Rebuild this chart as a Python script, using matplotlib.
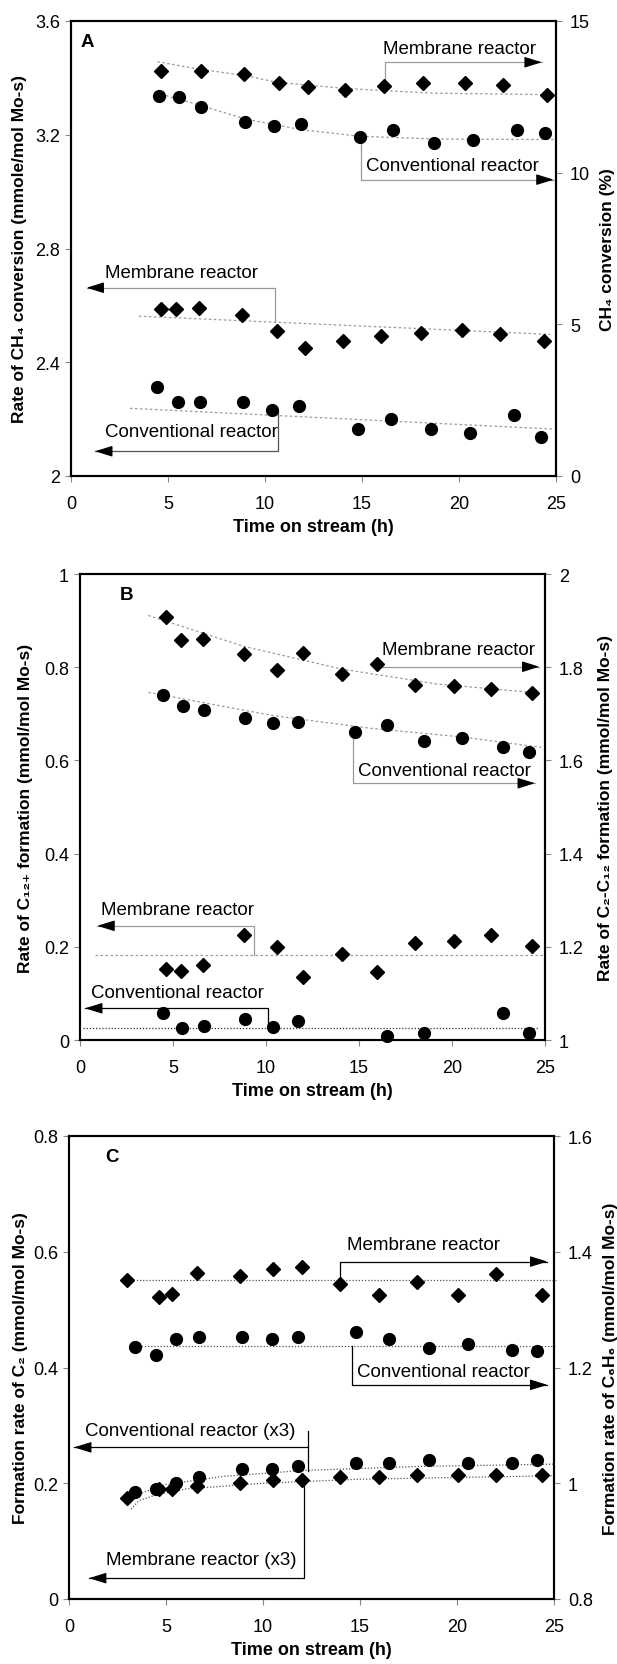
import numpy as np
import matplotlib
matplotlib.use('Agg')
import matplotlib.pyplot as plt
from matplotlib.ticker import FuncFormatter

plt.rcParams['font.family'] = ['Liberation Sans', 'DejaVu Sans']

# ---------------- Panel A ----------------
# upper group -> right axis, CH4 conversion (%)
tA_mem_top = [4.66, 6.69, 8.94, 10.71, 12.2, 14.14, 16.14, 18.16, 20.32, 22.27, 24.54]
convA_mem = [13.36, 13.36, 13.24, 12.96, 12.84, 12.72, 12.86, 12.95, 12.95, 12.89, 12.57]
tA_con_top = [4.52, 5.58, 6.72, 8.96, 10.45, 11.84, 14.89, 16.61, 18.71, 20.7, 22.99, 24.42]
convA_con = [12.53, 12.50, 12.18, 11.67, 11.55, 11.60, 11.19, 11.42, 10.97, 11.09, 11.41, 11.32]
# lower group -> left axis, rate of CH4 conversion
tA_mem = [4.62, 5.41, 6.62, 8.83, 10.6, 12.08, 14.02, 16.0, 18.03, 20.17, 22.13, 24.38]
rateA_mem = [2.587, 2.587, 2.59, 2.565, 2.51, 2.45, 2.475, 2.492, 2.504, 2.513, 2.50, 2.474]
tA_con = [4.45, 5.52, 6.63, 8.87, 10.36, 11.75, 14.81, 16.48, 18.56, 20.58, 22.84, 24.23]
rateA_con = [2.313, 2.261, 2.259, 2.259, 2.233, 2.246, 2.164, 2.201, 2.164, 2.151, 2.214, 2.136]
# trend lines
trA_mem_top_t = [4.45, 6.53, 8.98, 10.61, 14.08, 16.22, 18.76, 24.78]
trA_mem_top_v = [13.66, 13.42, 13.20, 12.98, 12.78, 12.70, 12.62, 12.57]
trA_con_top_t = [4.90, 6.72, 8.98, 11.84, 14.89, 18.76, 24.88]
trA_con_top_v = [12.54, 12.21, 11.77, 11.42, 11.20, 11.11, 11.09]
trA_mem_t = [3.5, 24.7]
trA_mem_v = [2.562, 2.498]
trA_con_t = [3.04, 24.85]
trA_con_v = [2.238, 2.165]

# ---------------- Panel B ----------------
tB_mem = [4.62, 5.41, 6.63, 8.82, 10.61, 12.01, 14.07, 15.98, 18.03, 20.12, 22.1, 24.28]
c2c12_mem = [1.908, 1.858, 1.860, 1.828, 1.794, 1.831, 1.786, 1.807, 1.762, 1.760, 1.753, 1.744]
tB_con = [4.46, 5.52, 6.65, 8.87, 10.38, 11.72, 14.78, 16.49, 18.51, 20.54, 22.76, 24.16]
c2c12_con = [1.741, 1.716, 1.708, 1.692, 1.680, 1.682, 1.662, 1.675, 1.642, 1.648, 1.629, 1.619]
c12_mem = [0.153, 0.147, 0.162, 0.225, 0.200, 0.135, 0.184, 0.145, 0.209, 0.212, 0.225, 0.201]
tB_c12_con = [4.44, 5.5, 6.65, 8.85, 10.38, 11.72, 16.49, 18.51, 22.76, 24.14]
c12_con = [0.059, 0.025, 0.030, 0.044, 0.027, 0.041, 0.008, 0.014, 0.058, 0.016]
trB_mem_t = [3.67, 8.78, 14.07, 19.18, 24.28]
trB_mem_v = [1.911, 1.845, 1.796, 1.764, 1.746]
trB_con_t = [3.67, 10.4, 15.6, 20.6, 24.8]
trB_con_v = [1.746, 1.696, 1.669, 1.650, 1.628]
trB_c12_mem_t = [0.8, 24.9]
trB_c12_mem_v = [0.182, 0.182]
trB_c12_con_t = [0.18, 24.6]
trB_c12_con_v = [0.026, 0.026]

# ---------------- Panel C ----------------
tC_mem = [2.97, 4.64, 5.31, 6.58, 8.8, 10.53, 11.99, 13.98, 15.98, 17.92, 20.05, 22.01, 24.37]
c6h6_mem = [1.352, 1.321, 1.327, 1.364, 1.358, 1.371, 1.373, 1.345, 1.325, 1.347, 1.326, 1.362, 1.326]
tC_con = [3.38, 4.5, 5.52, 6.72, 8.9, 10.46, 11.8, 14.8, 16.49, 18.56, 20.55, 22.82, 24.12]
c6h6_con = [1.235, 1.222, 1.249, 1.253, 1.253, 1.249, 1.253, 1.262, 1.249, 1.234, 1.241, 1.231, 1.229]
c2_con = [0.185, 0.19, 0.20, 0.21, 0.225, 0.225, 0.23, 0.235, 0.235, 0.24, 0.235, 0.235, 0.24]
c2_mem = [0.175, 0.19, 0.19, 0.195, 0.20, 0.205, 0.205, 0.21, 0.21, 0.215, 0.215, 0.215, 0.215]
trC_mem_t = [2.97, 25.1]
trC_mem_v = [1.351, 1.351]
trC_con_t = [3.38, 25.1]
trC_con_v = [1.237, 1.237]
trC_c2con_t = [3.3, 5, 8, 12, 18, 25]
trC_c2con_v = [0.178, 0.198, 0.212, 0.222, 0.229, 0.233]
trC_c2mem_t = [3.2, 3.6, 4.5, 6, 10, 15, 25]
trC_c2mem_v = [0.155, 0.170, 0.180, 0.190, 0.200, 0.207, 0.213]

W, H = 617, 1665
fig = plt.figure(figsize=(W / 100, H / 100), dpi=100)

GREY = '#9a9a9a'
fmt = FuncFormatter(lambda v, p: '%g' % round(v, 3))


def make_axes(left, right, top, bottom):
    ax = fig.add_axes([left / W, 1 - bottom / H, (right - left) / W, (bottom - top) / H])
    ax2 = ax.twinx()
    for a in (ax, ax2):
        for s in a.spines.values():
            s.set_linewidth(1.5)
            s.set_color('black')
        a.tick_params(direction='out', length=4, width=0.8, color='#888888', labelsize=13)
        a.yaxis.set_major_formatter(fmt)
    ax.tick_params(axis='x', pad=10)
    ax.tick_params(axis='y', pad=4)
    ax2.tick_params(axis='y', pad=6)
    ax.set_xlim(0, 25)
    ax.set_xticks(range(0, 26, 5))
    ax.set_xlabel('Time on stream (h)', fontsize=13, fontweight='bold', labelpad=4)
    return ax, ax2


def trend(ax, t, v, color=GREY, ls=(0, (2, 2))):
    ax.plot(t, v, color=color, lw=0.9, ls=ls, zorder=1, clip_on=False)


def connector(ax, pts, color=GREY):
    xs = [p[0] for p in pts]
    ys = [p[1] for p in pts]
    ax.plot(xs, ys, color=color, lw=0.9, zorder=2, clip_on=False)
    (x0, y0), (x1, y1) = pts[-2], pts[-1]
    d = 0.3 if x1 > x0 else -0.3
    ax.annotate('', xy=(x1, y1), xytext=(x1 - d, y1),
                arrowprops=dict(arrowstyle='-|>,head_length=0.9,head_width=0.28',
                                color='black', lw=0.8, shrinkA=0, shrinkB=0,
                                mutation_scale=12),
                annotation_clip=False)


def scatter(ax, t, v, marker):
    if marker == 'D':
        ax.plot(t, v, 'D', color='black', ms=7.5, ls='none', zorder=3, clip_on=False)
    else:
        ax.plot(t, v, 'o', color='black', ms=8.5, ls='none', zorder=3, clip_on=False)


txt = dict(fontsize=13.5, va='center', ha='left')

# ---------------- Panel A ----------------
ax, ax2 = make_axes(71, 556, 22, 477)
ax.set_ylim(2, 3.6)
ax.set_yticks([2, 2.4, 2.8, 3.2, 3.6])
ax2.set_ylim(0, 15)
ax2.set_yticks([0, 5, 10, 15])
ax.set_ylabel('Rate of CH₄ conversion (mmole/mol Mo-s)', fontsize=12.5, fontweight='bold')
ax2.set_ylabel('CH₄ conversion (%)', fontsize=12.5, fontweight='bold')
ax.yaxis.set_label_coords(-0.09, 0.5)
ax2.yaxis.set_label_coords(1.09, 0.5)

trend(ax2, trA_mem_top_t, trA_mem_top_v)
trend(ax2, trA_con_top_t, trA_con_top_v)
trend(ax, trA_mem_t, trA_mem_v)
trend(ax, trA_con_t, trA_con_v)
scatter(ax2, tA_mem_top, convA_mem, 'D')
scatter(ax2, tA_con_top, convA_con, 'o')
scatter(ax, tA_mem, rateA_mem, 'D')
scatter(ax, tA_con, rateA_con, 'o')

ax2.text(16.1, 14.1, 'Membrane reactor', **txt)
connector(ax2, [(16.2, 12.74), (16.2, 13.64), (24.27, 13.64)])
ax2.text(15.2, 10.23, 'Conventional reactor', **txt)
connector(ax2, [(14.93, 11.2), (14.93, 9.77), (24.88, 9.77)])
ax.text(1.75, 2.717, 'Membrane reactor', **txt)
connector(ax, [(10.5, 2.543), (10.5, 2.662), (0.8, 2.662)])
ax.text(1.75, 2.158, 'Conventional reactor', **txt)
connector(ax, [(10.65, 2.23), (10.65, 2.087), (1.24, 2.087)], color='#555555')
ax.text(0.02, 0.955, 'A', transform=ax.transAxes, fontsize=13.5, fontweight='bold', va='center')

# ---------------- Panel B ----------------
ax, ax2 = make_axes(80, 545, 575, 1041)
ax.set_ylim(0, 1)
ax.set_yticks(np.arange(0, 1.01, 0.2))
ax2.set_ylim(1, 2)
ax2.set_yticks(np.arange(1, 2.01, 0.2))
ax.set_ylabel('Rate of C₁₂₊ formation (mmol/mol Mo-s)', fontsize=12.5, fontweight='bold')
ax2.set_ylabel('Rate of C₂-C₁₂ formation (mmol/mol Mo-s)', fontsize=12.5, fontweight='bold')
ax.yaxis.set_label_coords(-0.1, 0.5)
ax2.yaxis.set_label_coords(1.115, 0.5)

trend(ax2, trB_mem_t, trB_mem_v)
trend(ax2, trB_con_t, trB_con_v)
trend(ax, trB_c12_mem_t, trB_c12_mem_v)
trend(ax, trB_c12_con_t, trB_c12_con_v, color='#333333', ls=(0, (1, 1.5)))
scatter(ax2, tB_mem, c2c12_mem, 'D')
scatter(ax2, tB_con, c2c12_con, 'o')
scatter(ax, tB_mem, c12_mem, 'D')
scatter(ax, tB_c12_con, c12_con, 'o')

ax2.text(16.22, 1.837, 'Membrane reactor', **txt)
connector(ax2, [(15.98, 1.801), (24.7, 1.801)])
ax2.text(14.97, 1.578, 'Conventional reactor', **txt)
connector(ax2, [(14.7, 1.66), (14.7, 1.551), (24.46, 1.551)])
ax.text(1.11, 0.281, 'Membrane reactor', **txt)
connector(ax, [(9.36, 0.182), (9.36, 0.245), (0.93, 0.245)])
ax.text(0.58, 0.102, 'Conventional reactor', **txt)
connector(ax, [(10.13, 0.026), (10.13, 0.068), (0.27, 0.068)], color='black')
ax.text(0.085, 0.955, 'B', transform=ax.transAxes, fontsize=13.5, fontweight='bold', va='center')

# ---------------- Panel C ----------------
ax, ax2 = make_axes(69, 554, 1137, 1600)
ax.set_ylim(0, 0.8)
ax.set_yticks(np.arange(0, 0.81, 0.2))
ax2.set_ylim(0.8, 1.6)
ax2.set_yticks(np.arange(0.8, 1.61, 0.2))
ax.set_ylabel('Formation rate of C₂ (mmol/mol Mo-s)', fontsize=12.5, fontweight='bold')
ax2.set_ylabel('Formation rate of C₆H₆ (mmol/mol Mo-s)', fontsize=12.5, fontweight='bold')
ax.yaxis.set_label_coords(-0.085, 0.5)
ax2.yaxis.set_label_coords(1.1, 0.5)

trend(ax2, trC_mem_t, trC_mem_v, color='#555555', ls=(0, (1, 1.5)))
trend(ax2, trC_con_t, trC_con_v, color='#555555', ls=(0, (1, 1.5)))
trend(ax, trC_c2con_t, trC_c2con_v, color='#555555', ls=(0, (1, 1.5)))
trend(ax, trC_c2mem_t, trC_c2mem_v, color='#555555', ls=(0, (1, 1.5)))
scatter(ax2, tC_mem, c6h6_mem, 'D')
scatter(ax2, tC_con, c6h6_con, 'o')
scatter(ax, tC_con, c2_con, 'o')
scatter(ax, tC_mem, c2_mem, 'D')

ax2.text(14.35, 1.413, 'Membrane reactor', **txt)
connector(ax2, [(13.98, 1.345), (13.98, 1.383), (24.66, 1.383)], color='black')
ax2.text(14.83, 1.193, 'Conventional reactor', **txt)
connector(ax2, [(14.59, 1.237), (14.59, 1.170), (24.66, 1.170)], color='black')
ax.text(0.82, 0.291, 'Conventional reactor (x3)', **txt)
ax.plot([12.3, 12.3], [0.222, 0.29], color='black', lw=0.9, zorder=2)
connector(ax, [(12.3, 0.262), (0.26, 0.262)], color='black')
ax.text(1.9, 0.068, 'Membrane reactor (x3)', **txt)
connector(ax, [(12.1, 0.204), (12.1, 0.036), (1.03, 0.036)], color='black')
ax.text(0.075, 0.955, 'C', transform=ax.transAxes, fontsize=13.5, fontweight='bold', va='center')

fig.savefig('out.png', dpi=100)
